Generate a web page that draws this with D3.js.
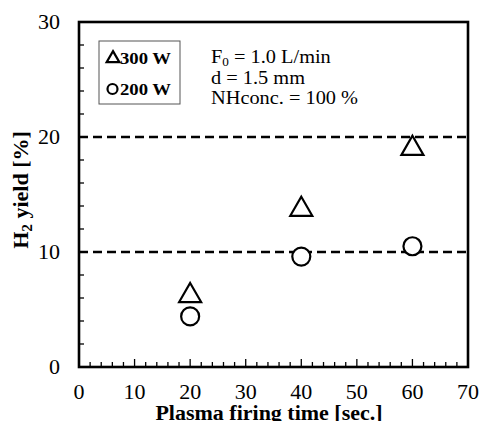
<!DOCTYPE html>
<html>
<head>
<meta charset="utf-8">
<script src="https://cdn.jsdelivr.net/npm/d3@7"></script>
<style>
  body { margin: 0; background: #fff; }
  svg { display: block; font-family: "Liberation Serif", "Times New Roman", serif; }
</style>
</head>
<body>
<svg id="chart" width="480" height="421"></svg>
<script>
// data
var times = [20, 40, 60]
var yield300 = [6.2, 13.7, 19.0]
var yield200 = [4.4, 9.6, 10.5]
var xTicks = [0, 10, 20, 30, 40, 50, 60, 70]
var yTicks = [0, 10, 20, 30]
var refLines = [10, 20]

var margin = { top: 22, right: 12, bottom: 54, left: 79 }
var width = 480 - margin.left - margin.right,
    height = 421 - margin.top - margin.bottom

var svg = d3.select("#chart")
var g = svg.append("g").attr("transform", "translate(" + margin.left + "," + margin.top + ")")

var x = d3.scaleLinear().domain([0, 70]).range([0, width])
var y = d3.scaleLinear().domain([0, 30]).range([height, 0])

// text in the original is a bit wider than Times, so stretch it horizontally
var sx = 1.1
function stretched(sel, px, py, rot) {
    return sel.append("text")
        .attr("transform", "translate(" + px + "," + py + ")" + (rot ? "rotate(" + rot + ")" : "") + "scale(" + sx + ",1)")
}

// minor ticks (inside)
g.append("g").selectAll("line").data(d3.range(0, 71, 2))
    .enter().append("line")
    .attr("x1", d => x(d)).attr("x2", d => x(d))
    .attr("y1", height).attr("y2", d => height - (d % 10 == 0 ? 8 : 5))
    .attr("stroke", "#000").attr("stroke-width", 1.3)
g.append("g").selectAll("line").data(d3.range(0, 31, 2))
    .enter().append("line")
    .attr("y1", d => y(d)).attr("y2", d => y(d))
    .attr("x1", 0).attr("x2", d => (d % 10 == 0 ? 8 : 5))
    .attr("stroke", "#000").attr("stroke-width", 1.3)

// dashed ref lines
g.selectAll(".ref").data(refLines).enter().append("line")
    .attr("x1", 0).attr("x2", width)
    .attr("y1", d => y(d)).attr("y2", d => y(d))
    .attr("stroke", "#000").attr("stroke-width", 2.4)
    .attr("stroke-dasharray", "9,5")

// frame
g.append("rect").attr("width", width).attr("height", height)
    .attr("fill", "none").attr("stroke", "#000").attr("stroke-width", 2.6)

// tick labels
xTicks.forEach(function (d) {
    stretched(g, x(d), height + 32).attr("text-anchor", "middle").attr("font-size", 20).text(d)
})
yTicks.forEach(function (d) {
    stretched(g, -19, y(d) + 7).attr("text-anchor", "end").attr("font-size", 20).text(d)
})

// axis titles
stretched(svg, 269, 420).attr("text-anchor", "middle").attr("font-size", 20).attr("font-weight", "bold")
    .text("Plasma firing time [sec.]")
var yt = stretched(svg, 28, 190, -90)
    .attr("text-anchor", "middle").attr("font-size", 20).attr("font-weight", "bold")
yt.append("tspan").text("H")
yt.append("tspan").attr("font-size", 14).attr("dy", 4).text("2")
yt.append("tspan").attr("dy", -4).text(" yield [%]")

// markers
var tri = d3.symbol().type(d3.symbolTriangle).size(210)
g.selectAll(".tri").data(times).enter().append("path")
    .attr("d", tri)
    .attr("transform", (d, i) => "translate(" + x(d) + "," + y(yield300[i]) + ")")
    .attr("fill", "#fff").attr("stroke", "#000").attr("stroke-width", 2.2)
g.selectAll(".circ").data(times).enter().append("circle")
    .attr("cx", d => x(d)).attr("cy", (d, i) => y(yield200[i]))
    .attr("r", 9).attr("fill", "#fff").attr("stroke", "#000").attr("stroke-width", 2.2)

// legend
var leg = svg.append("g")
leg.append("rect").attr("x", 99).attr("y", 41).attr("width", 81).attr("height", 63)
    .attr("fill", "#fff").attr("stroke", "#555").attr("stroke-width", 1)
leg.append("path").attr("d", d3.symbol().type(d3.symbolTriangle).size(70))
    .attr("transform", "translate(113,58.5)")
    .attr("fill", "none").attr("stroke", "#000").attr("stroke-width", 2.2)
leg.append("circle").attr("cx", 112.5).attr("cy", 89).attr("r", 5)
    .attr("fill", "none").attr("stroke", "#000").attr("stroke-width", 2.2)
stretched(leg, 120, 64).attr("font-size", 17).attr("font-weight", "bold").text("300 W")
stretched(leg, 120, 95).attr("font-size", 17).attr("font-weight", "bold").text("200 W")

// condition text
var note = svg.append("g").attr("font-size", 18.5)
var t1 = stretched(note, 211, 63)
t1.append("tspan").text("F")
t1.append("tspan").attr("font-size", 12).attr("dy", 3).text("0")
t1.append("tspan").attr("dy", -3).text(" = 1.0 L/min")
stretched(note, 211, 84).text("d = 1.5 mm")
stretched(note, 211, 104).text("NHconc. = 100 %")
</script>
</body>
</html>
